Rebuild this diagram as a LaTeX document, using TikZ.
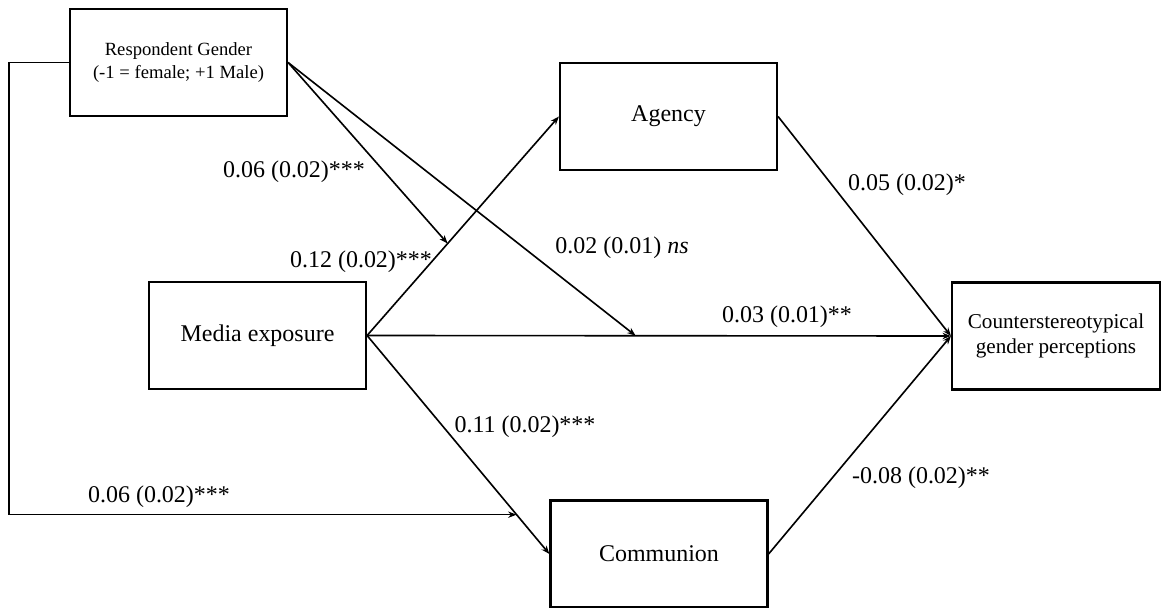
\documentclass[tikz,border=0pt]{standalone}
\usepackage{fontspec}
\setmainfont{Liberation Serif}
\usetikzlibrary{arrows.meta}

\tikzset{
  var/.style={draw,line width=1.5pt,inner sep=0pt,align=center,
    minimum width=153.9pt,minimum height=75.9pt,font=\fontsize{17}{20}\selectfont},
  path/.style={line width=1.15pt,-{Stealth[length=6pt,width=4.5pt]}},
  coef/.style={font=\fontsize{17}{20}\selectfont,inner sep=0pt}
}

\begin{document}
\begin{tikzpicture}[x=0.709pt,y=-0.709pt]
        \useasboundingbox (0,0) rectangle (1162,608);
        % boxes
        \node[var,font=\fontsize{13.2}{16}\selectfont] (gender) at (178.5,62.5) {Respondent Gender\\(-1 = female; +1 Male)};
        \node[var] (agency) at (668.5,116.5) {Agency};
        \node[var] (media) at (257.5,335.5) {Media exposure};
        \node[var,minimum width=147.5pt,font=\fontsize{15}{18}\selectfont] (counter) at (1056,336) {Counterstereotypical\\gender perceptions};
        \node[var] (communion) at (659,554) {Communion};
        % paths
        \draw[path] (media.east) -- (agency.west);
        \draw[path] (media.east) -- (counter.west);
        \draw[path] (media.east) -- (communion.west);
        \draw[path] (agency.east) -- (counter.west);
        \draw[path] (communion.east) -- (counter.west);
        % moderation by gender
        \path (media.east) -- (agency.west) coordinate[pos=0.42] (modagency);
        \path (media.east) -- (counter.west) coordinate[pos=0.46] (modcounter);
        \path (media.east) -- (communion.west) coordinate[pos=0.82] (modcommunion);
        \draw[path] (gender.east) -- (modagency);
        \draw[path] (gender.east) -- (modcounter);
        \draw[path] (gender.west) -- ++(-60,0) |- (modcommunion);
        % coefficients
        \node[coef] (cgenagency) at (294,172) {0.06 (0.02)***};
        \node[coef] (cmedagency) at (361,262) {0.12 (0.02)***};
        \node[coef] (cgencounter) at (622,248) {0.02 (0.01) \textit{ns}};
        \node[coef] (cagency) at (907,185) {0.05 (0.02)*};
        \node[coef] (cmedcounter) at (787,317) {0.03 (0.01)**};
        \node[coef] (cmedcommunion) at (525,427) {0.11 (0.02)***};
        \node[coef] (ccommunion) at (921,478) {-0.08 (0.02)**};
        \node[coef] (cgencommunion) at (159,497) {0.06 (0.02)***};
\end{tikzpicture}
\end{document}
